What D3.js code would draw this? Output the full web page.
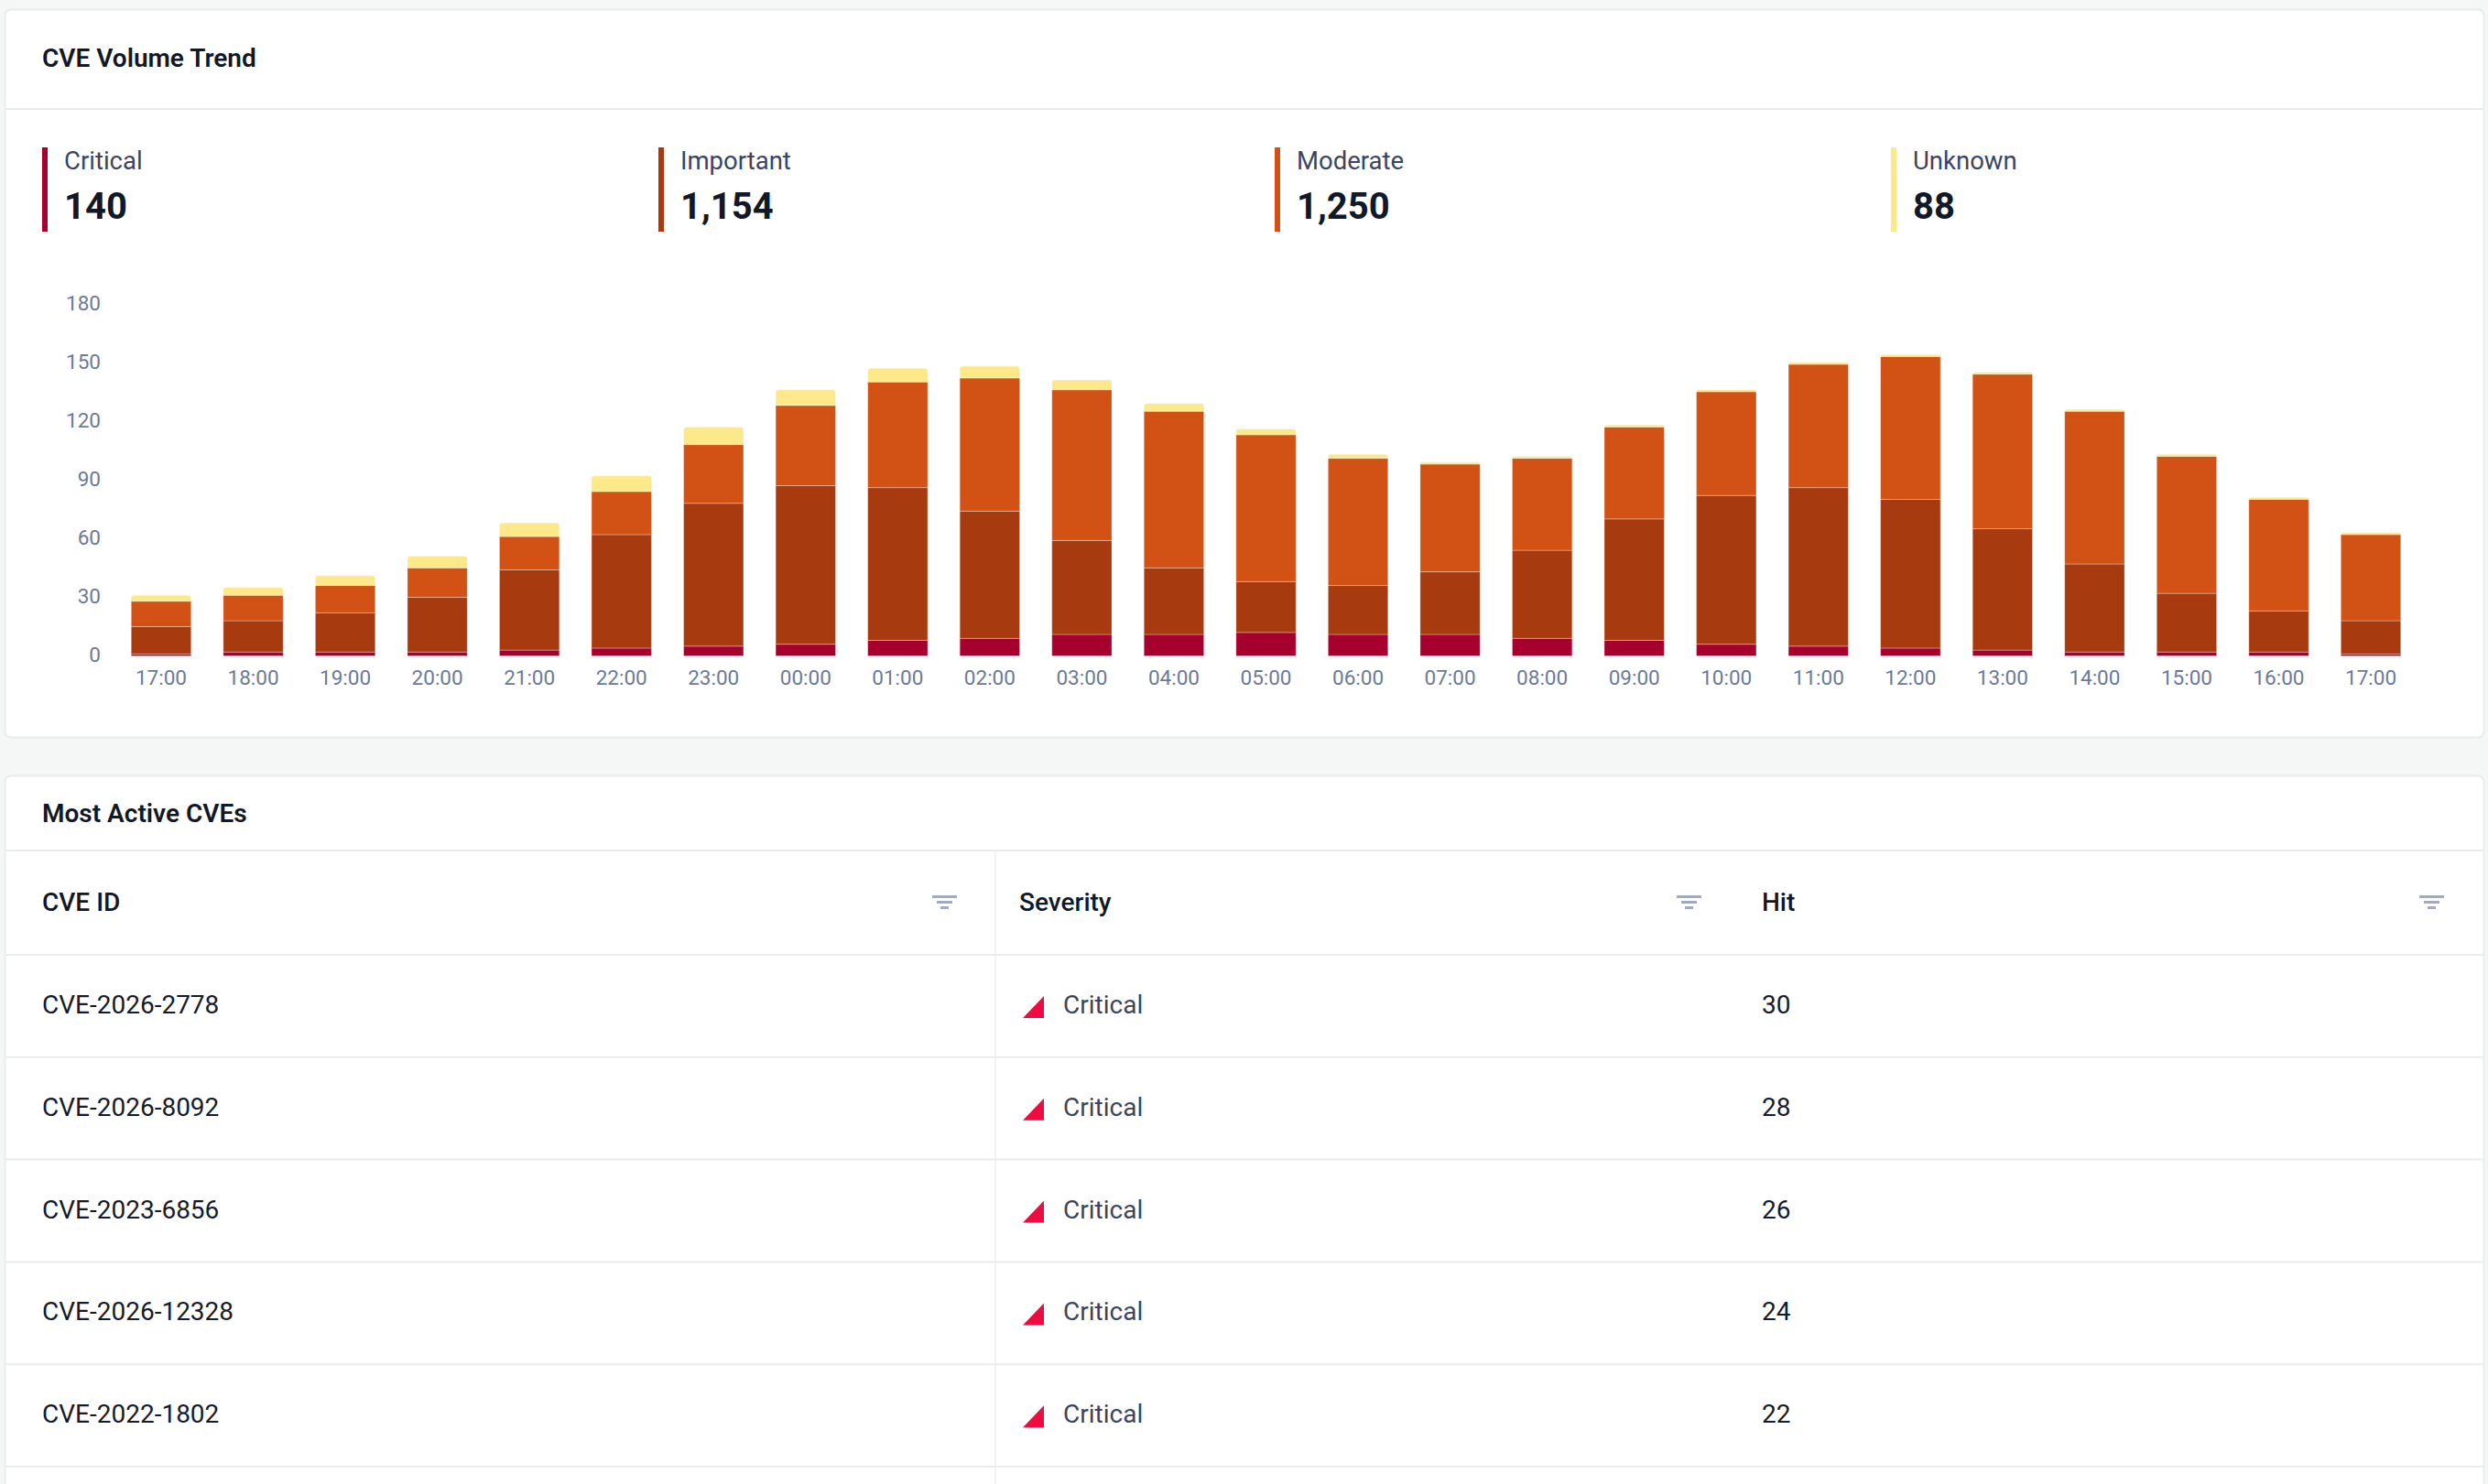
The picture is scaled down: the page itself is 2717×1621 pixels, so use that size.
<!DOCTYPE html>
<html>
<head>
<meta charset="utf-8">
<script src="https://cdn.jsdelivr.net/npm/d3@7"></script>
<style>
  html, body { margin: 0; padding: 0; background: #f5f7f7; }
  svg { display: block; font-family: Roboto, "Noto Sans", sans-serif; }
</style>
</head>
<body>
<svg id="chart" width="2717" height="1621"></svg>
<script>
// hourly buckets, last 24h
var hours = ['17:00', '18:00', '19:00', '20:00', '21:00', '22:00', '23:00', '00:00', '01:00', '02:00',
    '03:00', '04:00', '05:00', '06:00', '07:00', '08:00', '09:00', '10:00', '11:00', '12:00',
    '13:00', '14:00', '15:00', '16:00', '17:00'];
var critical  = [1, 2, 2, 2, 3, 4, 5, 6, 8, 9, 11, 11, 12, 11, 11, 9, 8, 6, 5, 4, 3, 2, 2, 2, 1];
var important = [14, 16, 20, 28, 41, 58, 73, 81, 78, 65, 48, 34, 26, 25, 32, 45, 62, 76, 81, 76, 62, 45, 30, 21, 17];
var moderate  = [13, 13, 14, 15, 17, 22, 30, 41, 54, 68, 77, 80, 75, 65, 55, 47, 47, 53, 63, 73, 79, 78, 70, 57, 44];
var unknown   = [3, 4, 5, 6, 7, 8, 9, 8, 7, 6, 5, 4, 3, 2, 1, 1, 1, 1, 1, 1, 1, 1, 1, 1, 1];
var yTicks = [0, 30, 60, 90, 120, 150, 180];

var severityNames = ['Critical', 'Important', 'Moderate', 'Unknown'];
var severityColors = ['#a6002e', '#a83a10', '#d25216', '#fde88a'];

// table
var cveIds = ['CVE-2026-2778', 'CVE-2026-8092', 'CVE-2023-6856', 'CVE-2026-12328', 'CVE-2022-1802', ''];
var cveSeverity = ['Critical', 'Critical', 'Critical', 'Critical', 'Critical', ''];
var cveHits = [30, 28, 26, 24, 22, ''];
var columns = ['CVE ID', 'Severity', 'Hit'];

var svg = d3.select('#chart');
var border = '#e9ecec';

// ---------- card 1 ----------
var card1 = svg.append('g');
card1.append('rect')
    .attr('x', 5.5).attr('y', 10.5).attr('width', 2707).attr('height', 795)
    .attr('rx', 6).attr('fill', '#fff').attr('stroke', border).attr('stroke-width', 2);
card1.append('line')
    .attr('x1', 6).attr('x2', 2712).attr('y1', 119).attr('y2', 119)
    .attr('stroke', border).attr('stroke-width', 2);
card1.append('text')
    .attr('x', 46).attr('y', 73)
    .attr('font-size', 28).attr('font-weight', 600).attr('fill', '#111827')
    .text('CVE Volume Trend');

// totals per severity
var series = [critical, important, moderate, unknown];
var stats = card1.append('g');
severityNames.forEach(function (name, i) {
    var total = d3.sum(series[i]);
    var gx = 46 + i * 673;
    var g = stats.append('g').attr('transform', 'translate(' + gx + ',0)');
    g.append('rect')
        .attr('x', 0).attr('y', 161).attr('width', 6).attr('height', 92)
        .attr('fill', severityColors[i]);
    g.append('text')
        .attr('x', 24).attr('y', 185)
        .attr('font-size', 27.5).attr('fill', '#3b4563')
        .text(name);
    g.append('text')
        .attr('x', 24).attr('y', 239)
        .attr('font-size', 40).attr('font-weight', 700).attr('fill', '#111827')
        .text(d3.format(',')(total));
});

// stacked bars
var x = d3.scaleBand()
    .domain(d3.range(hours.length))
    .range([125.7, 2639.3])
    .paddingInner(0.35)
    .paddingOuter(0.175);

var y = d3.scaleLinear()
    .domain([0, 180])
    .range([716.5, 331.7]);

var rows = hours.map(function (h, i) {
    return { i: i, Critical: critical[i], Important: important[i], Moderate: moderate[i], Unknown: unknown[i] };
});
var stacked = d3.stack().keys(severityNames)(rows);

var plot = card1.append('g');
stacked.forEach(function (layer, k) {
    var isTop = k === stacked.length - 1;
    var lg = plot.append('g').attr('fill', severityColors[k]);
    layer.forEach(function (d) {
        var x0 = x(d.data.i);
        var w = x.bandwidth();
        var yTop = y(d[1]);
        var h = y(d[0]) - yTop;
        if (h <= 0) return;
        if (isTop) {
            var r = Math.min(3, h);
            var p = 'M' + x0 + ',' + (yTop + h)
                + 'V' + (yTop + r)
                + 'Q' + x0 + ',' + yTop + ' ' + (x0 + r) + ',' + yTop
                + 'H' + (x0 + w - r)
                + 'Q' + (x0 + w) + ',' + yTop + ' ' + (x0 + w) + ',' + (yTop + r)
                + 'V' + (yTop + h) + 'Z';
            lg.append('path').attr('d', p)
                .attr('stroke', 'rgba(255,255,255,0.3)').attr('stroke-width', 1);
        } else {
            lg.append('rect')
                .attr('x', x0).attr('y', yTop).attr('width', w).attr('height', h)
                .attr('stroke', 'rgba(255,255,255,0.3)').attr('stroke-width', 1);
        }
    });
});

// axes
var yAxis = card1.append('g')
    .attr('transform', 'translate(110,0)')
    .call(d3.axisLeft(y).tickValues(yTicks).tickSize(0).tickPadding(0));
yAxis.select('.domain').remove();
yAxis.selectAll('text')
    .attr('font-family', 'Roboto, sans-serif')
    .attr('font-size', 22.5).attr('fill', '#6b7a99')
    .attr('y', -1.5).attr('dy', '0.35em');

var xAxis = card1.append('g')
    .attr('transform', 'translate(0,' + y(0) + ')')
    .call(d3.axisBottom(x).tickSize(0).tickFormat(function (i) { return hours[i]; }));
xAxis.select('.domain').remove();
xAxis.selectAll('text')
    .attr('font-family', 'Roboto, sans-serif')
    .attr('font-size', 22.5).attr('fill', '#6b7a99')
    .attr('y', 24).attr('dy', '0.35em');

// ---------- card 2 ----------
var card2 = svg.append('g');
card2.append('rect')
    .attr('x', 5.5).attr('y', 847.5).attr('width', 2707).attr('height', 900)
    .attr('rx', 6).attr('fill', '#fff').attr('stroke', border).attr('stroke-width', 2);
card2.append('text')
    .attr('x', 46).attr('y', 898)
    .attr('font-size', 28).attr('font-weight', 600).attr('fill', '#111827')
    .text('Most Active CVEs');

var colX = [46, 1113, 1924];
var iconX = [1018, 1831, 2642];
var headTop = 929, headH = 114, rowH = 111.8;

card2.append('line')
    .attr('x1', 6).attr('x2', 2712).attr('y1', headTop).attr('y2', headTop)
    .attr('stroke', border).attr('stroke-width', 2);
card2.append('line')
    .attr('x1', 1087).attr('x2', 1087).attr('y1', headTop).attr('y2', 1621)
    .attr('stroke', '#eef0f0').attr('stroke-width', 1.5);

var head = card2.append('g');
columns.forEach(function (c, i) {
    head.append('text')
        .attr('x', colX[i]).attr('y', headTop + 66)
        .attr('font-size', 28).attr('font-weight', 500).attr('fill', '#111827')
        .text(c);
    // filter icon
    var fi = head.append('g').attr('transform', 'translate(' + iconX[i] + ',' + (headTop + 49) + ')')
        .attr('fill', '#a3abbb');
    fi.append('rect').attr('x', 0).attr('y', 0).attr('width', 27).attr('height', 3);
    fi.append('rect').attr('x', 5).attr('y', 6).attr('width', 17).attr('height', 3);
    fi.append('rect').attr('x', 9).attr('y', 12).attr('width', 9).attr('height', 3);
});

var body = card2.append('g');
cveIds.forEach(function (id, r) {
    var top = headTop + headH + r * rowH;
    body.append('line')
        .attr('x1', 6).attr('x2', 2712).attr('y1', top).attr('y2', top)
        .attr('stroke', border).attr('stroke-width', 2);
    if (!id) return;
    var base = top + 64;
    body.append('text')
        .attr('x', colX[0]).attr('y', base)
        .attr('font-size', 28).attr('fill', '#161b2b')
        .text(id);
    body.append('path')
        .attr('d', 'M' + 1117 + ',' + (base + 5) + 'L' + 1140 + ',' + (base + 5) + 'L' + 1140 + ',' + (base - 19) + 'Z')
        .attr('fill', '#ee0b3f');
    body.append('text')
        .attr('x', 1161).attr('y', base)
        .attr('font-size', 28).attr('fill', '#3b4563')
        .text(cveSeverity[r]);
    body.append('text')
        .attr('x', colX[2]).attr('y', base)
        .attr('font-size', 28).attr('fill', '#161b2b')
        .text(cveHits[r]);
});
</script>
</body>
</html>
